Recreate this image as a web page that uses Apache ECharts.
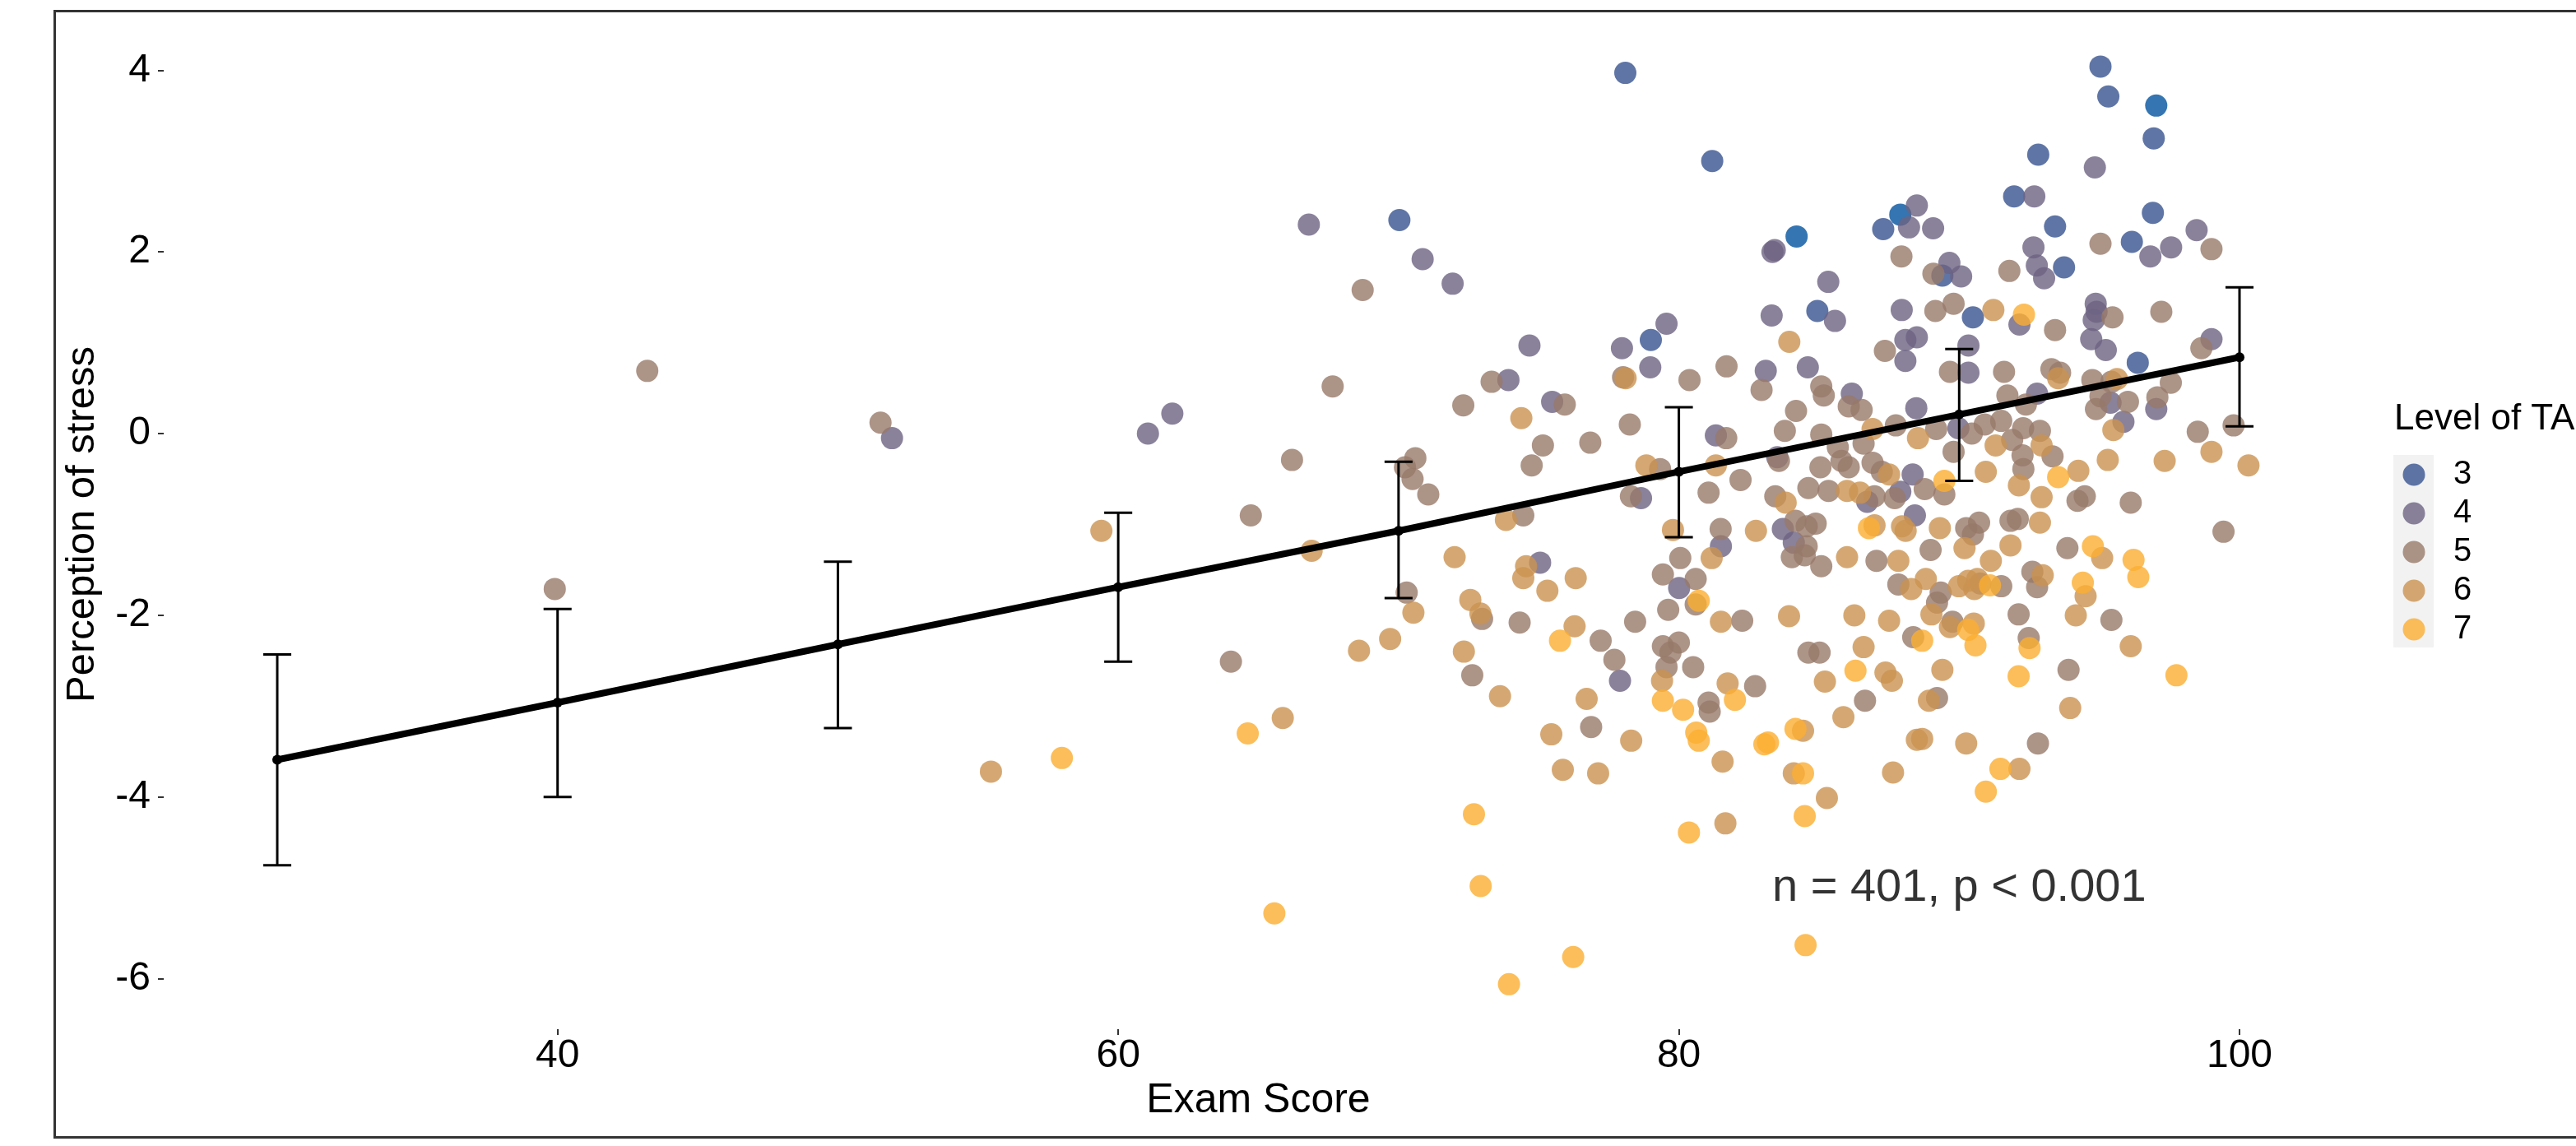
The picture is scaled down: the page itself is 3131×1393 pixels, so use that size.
<!DOCTYPE html>
<html><head><meta charset="utf-8">
<script src="https://cdn.jsdelivr.net/npm/echarts@6/dist/echarts.min.js"></script>
<style>html,body{margin:0;padding:0;background:#fff;}#chart{width:3131px;height:1393px;}</style>
</head><body><div id="chart"></div>
<script>
// ---------- data ----------
const legendLevels = ['3', '4', '5', '6', '7'];
const legendTitle = 'Level of TA';
const xTicks = [40, 60, 80, 100];
const yTicks = [-6, -4, -2, 0, 2, 4];

// [Exam Score, Perception of stress] grouped by Level of TA
const ta2 = [[84.2,2.17],[87.9,2.41],[97.03,3.61]];
const ta3 = [[78.09,3.97],[81.19,3.0],[70.03,2.35],[79.0,1.03],[95.04,4.04],[95.32,3.71],[96.94,3.25],[92.82,3.07],[87.29,2.25],[91.96,2.61],[93.42,2.28],[93.74,1.83],[96.91,2.43],[96.16,2.11],[89.4,1.74],[84.94,1.35],[90.49,1.28],[96.37,0.78]];
const ta4 = [[51.93,-0.05],[61.06,0.0],[61.93,0.22],
 [66.8,2.3],[70.86,1.92],[71.93,1.65],[79.56,1.21],[77.97,0.94],[78.98,0.73],[74.67,0.97],[73.92,0.59],[75.48,0.35],[81.32,-0.02],[78.65,-0.71],[81.5,-1.24],[75.05,-1.42],
 [80.01,-1.7],[77.9,-2.72],
 [94.84,2.93],[83.34,2.0],[83.42,2.02],[88.49,2.51],[88.21,2.27],[89.07,2.26],[92.68,2.61],[92.65,2.05],[92.77,1.85],[93.03,1.71],[96.82,1.95],[97.56,2.05],[98.47,2.24],[89.65,1.88],[90.07,1.73],[85.33,1.67],[83.31,1.3],[85.57,1.24],[87.95,1.36],[92.15,1.2],[94.87,1.43],[94.9,1.34],[94.8,1.25],[94.71,1.04],[95.23,0.92],[99.0,1.04],[83.1,0.69],[84.6,0.73],[88.08,1.03],[88.49,1.06],[88.08,0.8],[90.33,0.97],[90.33,0.67],[86.17,0.44],[88.47,0.28],[92.78,0.44],[95.4,0.34],[97.03,0.27],[95.86,0.13],[89.97,0.06],[83.51,-0.26],[88.34,-0.45],[87.9,-0.64],[86.72,-0.75],
 [83.71,-1.05],[84.1,-1.2],[88.42,-0.9]];
const ta5 = [[39.9,-1.71],[43.2,0.69],[51.52,0.12],
 [68.72,1.58],[78.01,0.62],[80.38,0.59],[81.7,0.74],[73.32,0.57],[67.65,0.52],[72.31,0.31],[75.93,0.32],[78.25,0.1],[75.15,-0.13],[76.84,-0.1],[74.75,-0.35],[81.69,-0.05],[66.2,-0.29],[70.6,-0.27],[70.23,-0.37],[70.5,-0.5],[71.06,-0.67],[79.33,-0.39],[64.73,-0.9],[78.29,-0.69],[81.06,-0.65],[74.45,-0.9],[81.49,-1.05],[80.05,-1.37],
 [79.43,-1.55],[80.6,-1.6],[80.6,-1.88],[79.62,-1.94],[70.29,-1.75],[72.98,-2.04],[74.32,-2.08],[77.21,-2.28],[78.44,-2.07],[77.7,-2.49],[72.63,-2.66],[79.43,-2.34],[80.0,-2.3],[79.7,-2.41],[79.56,-2.57],[80.51,-2.57],[81.06,-2.96],[81.1,-3.06],[64.02,-2.51],[76.87,-3.23],
 [87.94,1.95],[91.79,1.79],[95.04,2.09],[99.0,2.03],[89.08,1.76],[89.15,1.35],[89.8,1.43],[93.42,1.14],[95.47,1.28],[97.21,1.34],[98.64,0.94],[82.95,0.48],[87.35,0.91],[89.67,0.68],[91.6,0.68],[93.29,0.71],[93.6,0.67],[94.75,0.59],[95.43,0.57],[85.08,0.52],[85.17,0.42],[86.06,0.3],[86.52,0.26],[84.18,0.25],[91.72,0.42],[92.38,0.32],[95.04,0.41],[96.02,0.35],[94.88,0.27],[97.07,0.4],[97.55,0.56],[98.51,0.02],[99.79,0.09],[83.78,0.03],[85.08,-0.01],[87.74,0.09],[89.18,0.05],[90.91,0.1],[91.5,0.14],[92.28,0.06],[92.88,0.03],[91.89,-0.07],[90.45,0.0],[86.59,-0.11],[85.67,-0.15],[83.57,-0.3],[93.33,-0.25],[92.26,-0.24],[89.8,-0.2],[82.2,-0.51],[85.05,-0.37],[85.8,-0.3],[86.06,-0.37],[86.91,-0.32],[92.29,-0.39],[94.22,-0.74],[94.48,-0.69],[96.12,-0.76],[89.47,-0.67],[88.77,-0.61],[87.24,-0.42],[87.7,-0.71],[86.98,-0.69],[85.34,-0.63],[84.62,-0.6],[83.44,-0.69],
 [99.43,-1.08],[84.16,-0.96],[84.88,-0.99],[84.56,-1.02],[84.56,-1.24],[84.03,-1.36],[84.49,-1.34],[85.08,-1.46],[90.25,-1.04],[90.71,-0.98],[90.49,-1.11],[88.98,-1.28],[87.05,-1.4],[91.83,-0.96],[92.09,-0.94],[93.86,-1.26],[92.61,-1.52],[92.78,-1.69],[95.43,-2.05],[93.9,-2.6],[92.12,-1.99],[92.48,-2.25],[92.81,-3.41],[91.5,-1.68],[90.75,-1.65],[89.76,-2.07],[89.34,-1.75],[89.21,-1.86],[87.83,-1.66],[88.36,-2.24],[89.21,-2.91],[86.64,-2.94],[84.62,-2.41],[85.02,-2.41],[82.26,-2.06],[82.72,-2.78]];
const ta6 = [[59.4,-1.07],[55.46,-3.72],
 [78.1,0.61],[74.38,0.17],[78.84,-0.35],[81.32,-0.35],[73.83,-0.95],[79.79,-1.06],[66.9,-1.29],[72.0,-1.36],[74.55,-1.46],[81.17,-1.37],
 [74.45,-1.59],[75.31,-1.73],[76.32,-1.59],[81.5,-2.07],[70.53,-1.97],[72.56,-1.83],[72.92,-1.98],[76.28,-2.12],[69.7,-2.26],[68.59,-2.39],[72.33,-2.4],[79.4,-2.72],[73.62,-2.89],[76.71,-2.92],[65.87,-3.13],[78.3,-3.38],[75.86,-3.7],[77.12,-3.74],[81.66,-4.29],[81.56,-3.61],[75.45,-3.31],
 [91.22,1.36],[83.94,1.01],[93.53,0.61],[95.63,0.6],[95.5,0.04],[86.91,0.05],[92.94,-0.13],[91.3,-0.13],[88.53,-0.05],[95.3,-0.29],[97.33,-0.3],[99.0,-0.2],[100.32,-0.35],[90.95,-0.42],[92.13,-0.57],[92.94,-0.7],[94.25,-0.41],[87.5,-0.45],[86.46,-0.65],[86.0,-0.63],[83.81,-0.76],
 [82.75,-1.07],[86.0,-1.36],[86.98,-1.01],[87.96,-1.02],[88.09,-1.07],[89.31,-1.04],[90.19,-1.26],[87.83,-1.4],[92.88,-0.98],[91.83,-1.23],[91.13,-1.4],[95.1,-1.37],[92.98,-1.56],[94.51,-1.79],[94.16,-2.0],[96.12,-2.34],[93.96,-3.02],[92.15,-3.69],[90.25,-3.41],[89.99,-1.68],[90.32,-1.62],[90.65,-1.6],[90.54,-1.71],[90.52,-2.09],[89.67,-2.13],[89.01,-1.99],[88.81,-1.6],[88.29,-1.71],[87.5,-2.06],[89.4,-2.6],[88.92,-2.94],[86.26,-2.0],[86.59,-2.35],[87.37,-2.63],[87.6,-2.72],[85.87,-3.12],[85.21,-2.73],[83.93,-2.01],[84.43,-3.27],[84.1,-3.74],[85.28,-4.01],[87.64,-3.73],[88.49,-3.37],[88.68,-3.36],[81.74,-2.75]];
const ta7 = [[57.99,-3.57],
 [80.71,-1.84],[75.76,-2.28],[79.43,-2.94],[80.15,-3.04],[80.62,-3.29],[80.71,-3.38],[64.62,-3.3],[72.69,-4.19],[80.36,-4.39],[72.93,-4.98],[65.57,-5.28],[76.23,-5.76],[73.94,-6.06],
 [92.31,1.31],[93.53,-0.48],[89.47,-0.52],
 [86.78,-1.04],[94.77,-1.24],[96.22,-1.39],[96.39,-1.58],[94.41,-1.64],[97.75,-2.66],[92.51,-2.36],[92.12,-2.67],[91.47,-3.69],[90.95,-3.94],[91.1,-1.67],[90.32,-2.16],[90.58,-2.33],[88.68,-2.28],[86.3,-2.61],[83.18,-3.4],[83.05,-3.42],[84.16,-3.25],[84.43,-3.74],[84.49,-4.21],[84.52,-5.63],[82.0,-2.93]];

// model estimates at fixed exam scores with confidence limits
const fitX    = [30, 40, 50, 60, 70, 80, 90, 100];
const fitMean = [-3.59, -2.96, -2.32, -1.69, -1.07, -0.42, 0.21, 0.84];
const fitLow  = [-4.75, -4.00, -3.24, -2.51, -1.81, -1.14, -0.52, 0.08];
const fitHigh = [-2.43, -1.93, -1.41, -0.87, -0.31, 0.29, 0.93, 1.61];

const annotX = 90, annotY = -5, annotText = 'n = 401, p < 0.001';

// ---------- styling ----------
const FONT = "'Liberation Sans', Arial, sans-serif";
const levelColors = {'2':'#1f66a8','3':'#37528f','4':'#6d6382','5':'#977969','6':'#ca9250','7':'#fbae31'};
const groups = [['2', ta2], ['3', ta3], ['4', ta4], ['5', ta5], ['6', ta6], ['7', ta7]];

const chart = echarts.init(document.getElementById('chart'), null, {renderer: 'canvas'});

const scatterSeries = groups.map(([lvl, pts]) => ({
  name: lvl, type: 'scatter', data: pts, symbol: 'circle', symbolSize: 27,
  itemStyle: {color: levelColors[lvl], opacity: lvl === '2' ? 0.9 : 0.8},
  emphasis: {disabled: true}, z: 2
}));

// legend (drawn as graphic elements, ggplot style)
const LEG_X = 2934, LEG_Y0 = 577, LEG_STEP = 47;
const legendGraphics = [
  {type: 'rect', left: 2909, top: 553, shape: {width: 49, height: 234}, style: {fill: '#f2f2f2'}, z: 1, silent: true},
  {type: 'text', left: 2910, top: 488, style: {text: legendTitle, fontSize: 44, fill: '#000', fontFamily: FONT}, z: 5, silent: true}
];
legendLevels.forEach((l, i) => {
  legendGraphics.push({type: 'circle', shape: {cx: LEG_X, cy: LEG_Y0 + i * LEG_STEP, r: 13.5},
    style: {fill: levelColors[l], opacity: 0.8}, z: 5, silent: true});
  legendGraphics.push({type: 'text', x: 2982, y: LEG_Y0 + i * LEG_STEP,
    style: {text: l, fontSize: 40, fill: '#000', fontFamily: FONT, verticalAlign: 'middle', align: 'left'}, z: 5, silent: true});
});

const option = {
  animation: false,
  backgroundColor: '#ffffff',
  grid: {left: 199, right: 271, top: 24, bottom: 142, containLabel: false},
  xAxis: {
    type: 'value', min: 25.95, max: 104.05,
    axisLine: {show: false, onZero: false}, splitLine: {show: false},
    axisTick: {show: true, customValues: xTicks, length: 7, lineStyle: {color: '#333', width: 2}},
    axisLabel: {customValues: xTicks, fontSize: 48, color: '#000', margin: 9, fontFamily: FONT},
    name: 'Exam Score', nameLocation: 'middle', nameGap: 60,
    nameTextStyle: {fontSize: 50, color: '#000', fontFamily: FONT}
  },
  yAxis: {
    type: 'value', min: -6.555, max: 4.555,
    axisLine: {show: false, onZero: false}, splitLine: {show: false},
    axisTick: {show: true, customValues: yTicks, length: 7, lineStyle: {color: '#333', width: 2}},
    axisLabel: {customValues: yTicks, fontSize: 48, color: '#000', margin: 16, fontFamily: FONT},
    name: 'Perception of stress', nameLocation: 'middle', nameGap: 74, nameRotate: 90,
    nameTextStyle: {fontSize: 49, color: '#000', fontFamily: FONT}
  },
  graphic: [
    {type: 'rect', left: 64, top: 11, shape: {width: 3200, height: 1369}, style: {fill: 'none', stroke: '#333', lineWidth: 3}, z: 0, silent: true},
    ...legendGraphics
  ],
  series: [
    ...scatterSeries,
    {
      name: 'ci', type: 'custom', z: 5,
      data: fitX.map((x, i) => [x, fitLow[i], fitHigh[i]]),
      encode: {x: 0, y: [1, 2]},
      renderItem: function (params, api) {
        const x = api.value(0), lo = api.value(1), hi = api.value(2);
        const pLo = api.coord([x, lo]), pHi = api.coord([x, hi]);
        const half = (api.coord([x + 0.5, hi])[0] - api.coord([x - 0.5, hi])[0]) / 2;
        const st = {stroke: '#000', lineWidth: 3};
        return {type: 'group', children: [
          {type: 'line', shape: {x1: pLo[0], y1: pLo[1], x2: pHi[0], y2: pHi[1]}, style: st},
          {type: 'line', shape: {x1: pHi[0] - half, y1: pHi[1], x2: pHi[0] + half, y2: pHi[1]}, style: st},
          {type: 'line', shape: {x1: pLo[0] - half, y1: pLo[1], x2: pLo[0] + half, y2: pLo[1]}, style: st}
        ]};
      }
    },
    {
      name: 'fit', type: 'line', z: 6,
      data: fitX.map((x, i) => [x, fitMean[i]]),
      lineStyle: {color: '#000', width: 8}, itemStyle: {color: '#000'},
      symbol: 'circle', symbolSize: 12, showSymbol: true, emphasis: {disabled: true}
    },
    {
      name: 'annot', type: 'scatter', z: 7, silent: true,
      data: [[annotX, annotY]], symbol: 'circle', symbolSize: 1,
      itemStyle: {color: 'rgba(0,0,0,0)'},
      label: {show: true, position: 'inside', formatter: annotText, fontSize: 56, color: '#000', fontFamily: FONT}
    }
  ]
};
chart.setOption(option);
</script>
</body></html>
